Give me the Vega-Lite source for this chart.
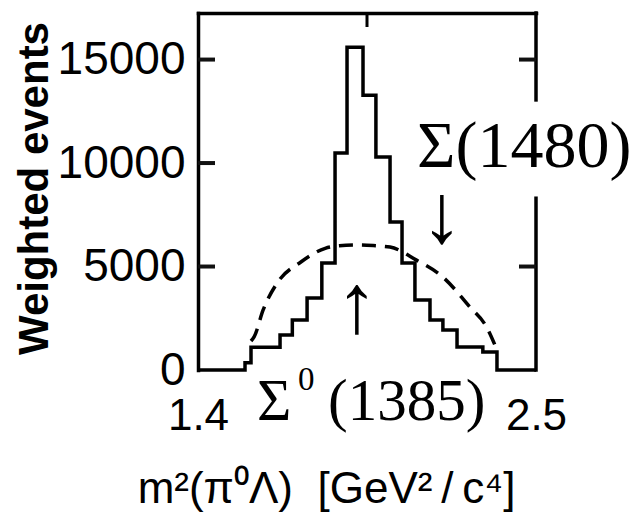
{
  "$schema": "https://vega.github.io/schema/vega-lite/v6.json",
  "width": 338,
  "height": 357,
  "autosize": "none",
  "padding": {"left": 198, "top": 13, "right": 102, "bottom": 143},
  "background": "white",
  "config": {
    "view": {"stroke": null},
    "axis": {
      "grid": false,
      "labelFont": "Liberation Sans",
      "titleFont": "Liberation Sans",
      "labelColor": "black",
      "titleColor": "black",
      "domainColor": "black",
      "tickColor": "black"
    }
  },
  "datasets": {
    "histogram": [
      {"m": 1.4, "n": 0},
      {"m": 1.553, "n": 350},
      {"m": 1.5725, "n": 1100},
      {"m": 1.62, "n": 1100},
      {"m": 1.667, "n": 1690},
      {"m": 1.707, "n": 2420},
      {"m": 1.755, "n": 3480},
      {"m": 1.803, "n": 5170},
      {"m": 1.846, "n": 10480},
      {"m": 1.885, "n": 15600},
      {"m": 1.937, "n": 13280},
      {"m": 1.979, "n": 10290},
      {"m": 2.025, "n": 7150},
      {"m": 2.064, "n": 5170},
      {"m": 2.106, "n": 3380},
      {"m": 2.155, "n": 2420},
      {"m": 2.197, "n": 1930},
      {"m": 2.243, "n": 1110},
      {"m": 2.285, "n": 1110},
      {"m": 2.327, "n": 870},
      {"m": 2.373, "n": 0},
      {"m": 2.5, "n": 0}
    ],
    "model": [
      {"m": 1.5725, "n": 1400},
      {"m": 1.583, "n": 1610},
      {"m": 1.612, "n": 2900},
      {"m": 1.657, "n": 4190},
      {"m": 1.736, "n": 5230},
      {"m": 1.814, "n": 5880},
      {"m": 1.86, "n": 6000},
      {"m": 1.92, "n": 6040},
      {"m": 1.97, "n": 6010},
      {"m": 2.025, "n": 5940},
      {"m": 2.111, "n": 5310},
      {"m": 2.197, "n": 4490},
      {"m": 2.285, "n": 3040},
      {"m": 2.339, "n": 2080},
      {"m": 2.373, "n": 970}
    ],
    "frameRight": [
      {"m": 2.5, "n": 0, "n2": 8300},
      {"m": 2.5, "n": 13050, "n2": 17250}
    ],
    "tickMarksLeft": [
      {"m": 1.4, "n": 5000},
      {"m": 1.4, "n": 10000},
      {"m": 1.4, "n": 15000}
    ],
    "tickMarksRight": [
      {"m": 2.5, "n": 5000},
      {"m": 2.5, "n": 15000}
    ],
    "tickMarksTop": [
      {"m": 1.95, "n": 17250}
    ],
    "sigma1480": [
      {"m": 2.1127, "n": 9810, "label": "Σ(1480)"}
    ],
    "sigma1385": [
      {"m": 1.592, "n": -2416, "label": "Σ"},
      {"m": 1.8231, "n": -2416, "label": "(1385)"}
    ],
    "superscripts": [
      {"m": 1.7254, "n": -966, "label": "0"}
    ],
    "arrows": [
      {"m": 2.194, "n": 7390, "label": "↓"},
      {"m": 1.9175, "n": 3040, "label": "↑"}
    ]
  },
  "resolve": {"axis": {"x": "independent", "y": "independent"}},
  "layer": [
    {
      "data": {"name": "histogram"},
      "mark": {"type": "line", "interpolate": "step-after", "color": "black", "strokeWidth": 3.5, "clip": false},
      "encoding": {
        "x": {
          "field": "m", "type": "quantitative",
          "scale": {"domain": [1.4, 2.5], "nice": false, "zero": false},
          "axis": {
            "orient": "bottom", "values": [1.4, 2.5], "format": ".1f",
            "domain": false, "ticks": false, "tickSize": 0,
            "labelPadding": 46, "labelBaseline": "middle", "labelFontSize": 44,
            "labelFlush": false, "labelOverlap": false, "labelBound": false,
            "title": "m²(π⁰Λ)\u00a0\u00a0[GeV²\u2009/\u2009c⁴]",
            "titleFontSize": 44, "titleFontWeight": "normal",
            "titleX": 128, "titleY": 132, "titleAlign": "center", "titleBaseline": "alphabetic"
          }
        },
        "y": {
          "field": "n", "type": "quantitative",
          "scale": {"domain": [0, 17250], "nice": false},
          "axis": {
            "orient": "left", "values": [0, 5000, 10000, 15000], "format": "d",
            "domain": true, "domainWidth": 3.5, "domainCap": "square",
            "ticks": false, "tickSize": 0,
            "labelPadding": 13, "labelFontSize": 46, "labelBaseline": "middle",
            "labelOverlap": false, "labelBound": false, "labelFlush": false,
            "title": "Weighted events",
            "titleFontSize": 42, "titleFontWeight": "bold",
            "titleX": -164, "titleY": 175, "titleAngle": -90,
            "titleAlign": "center", "titleBaseline": "middle"
          }
        }
      }
    },
    {
      "data": {"name": "model"},
      "mark": {"type": "line", "interpolate": "monotone", "color": "black", "strokeWidth": 3.5, "strokeDash": [14, 9]},
      "encoding": {
        "x": {
          "field": "m", "type": "quantitative",
          "axis": {
            "orient": "top", "labels": false, "ticks": false,
            "domain": true, "domainWidth": 3.5, "domainCap": "square", "title": null
          }
        },
        "y": {"field": "n", "type": "quantitative", "axis": null}
      }
    },
    {
      "data": {"name": "frameRight"},
      "mark": {"type": "rule", "color": "black", "strokeWidth": 3.5, "strokeCap": "square"},
      "encoding": {
        "x": {"field": "m", "type": "quantitative", "axis": null},
        "y": {"field": "n", "type": "quantitative", "axis": null},
        "y2": {"field": "n2"}
      }
    },
    {
      "data": {"name": "tickMarksLeft"},
      "mark": {"type": "rule", "color": "#111111", "strokeWidth": 4, "x2Offset": 17},
      "encoding": {
        "y": {"field": "n", "type": "quantitative", "axis": null},
        "x": {"field": "m", "type": "quantitative", "axis": null},
        "x2": {"field": "m"}
      }
    },
    {
      "data": {"name": "tickMarksRight"},
      "mark": {"type": "rule", "color": "#111111", "strokeWidth": 4, "x2Offset": -17},
      "encoding": {
        "y": {"field": "n", "type": "quantitative", "axis": null},
        "x": {"field": "m", "type": "quantitative", "axis": null},
        "x2": {"field": "m"}
      }
    },
    {
      "data": {"name": "tickMarksTop"},
      "mark": {"type": "rule", "color": "black", "strokeWidth": 3, "y2Offset": 14},
      "encoding": {
        "x": {"field": "m", "type": "quantitative", "axis": null},
        "y": {"field": "n", "type": "quantitative", "axis": null},
        "y2": {"field": "n"}
      }
    },
    {
      "data": {"name": "sigma1480"},
      "mark": {"type": "text", "font": "Liberation Serif", "fontSize": 66, "align": "left", "baseline": "alphabetic", "color": "black"},
      "encoding": {
        "x": {"field": "m", "type": "quantitative", "axis": null},
        "y": {"field": "n", "type": "quantitative", "axis": null},
        "text": {"field": "label"}
      }
    },
    {
      "data": {"name": "sigma1385"},
      "mark": {"type": "text", "font": "Liberation Serif", "fontSize": 59, "align": "left", "baseline": "alphabetic", "color": "black"},
      "encoding": {
        "x": {"field": "m", "type": "quantitative", "axis": null},
        "y": {"field": "n", "type": "quantitative", "axis": null},
        "text": {"field": "label"}
      }
    },
    {
      "data": {"name": "superscripts"},
      "mark": {"type": "text", "font": "Liberation Serif", "fontSize": 33, "align": "left", "baseline": "alphabetic", "color": "black"},
      "encoding": {
        "x": {"field": "m", "type": "quantitative", "axis": null},
        "y": {"field": "n", "type": "quantitative", "axis": null},
        "text": {"field": "label"}
      }
    },
    {
      "data": {"name": "arrows"},
      "mark": {"type": "text", "font": "Liberation Serif", "fontSize": 84, "align": "center", "baseline": "middle", "color": "black"},
      "encoding": {
        "x": {"field": "m", "type": "quantitative", "axis": null},
        "y": {"field": "n", "type": "quantitative", "axis": null},
        "text": {"field": "label"}
      }
    }
  ]
}
